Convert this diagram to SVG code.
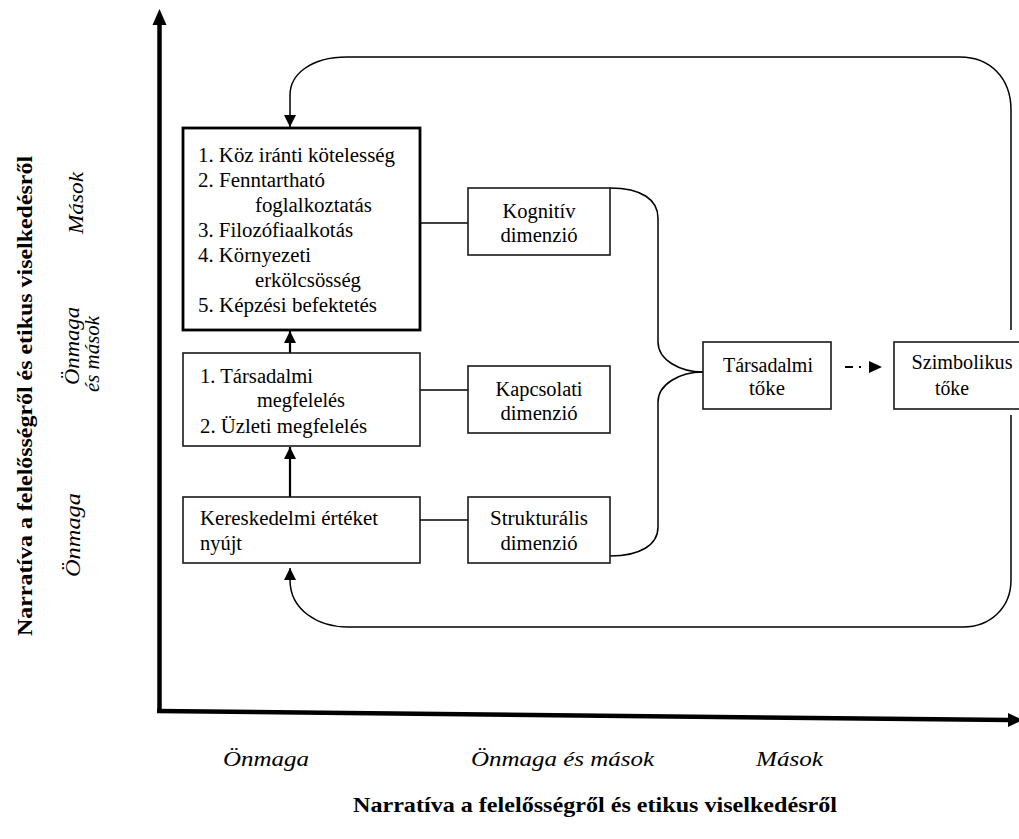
<svg xmlns="http://www.w3.org/2000/svg" width="1019" height="839" viewBox="0 0 1019 839">
<style>
text{font-family:'Liberation Serif','Times New Roman',serif;fill:#000}
.t{font-size:20px}
.c{text-anchor:middle}
.m{text-anchor:middle}
.i{font-style:italic;font-size:22px}
.b{font-weight:bold;font-size:21px}
.box{fill:#fff;stroke:#1a1a1a;stroke-width:1.6}
.thick{fill:#fff;stroke:#000;stroke-width:2.8}
.ln{fill:none;stroke:#000;stroke-width:1.5}
.arr{fill:none;stroke:#000;stroke-width:2.2}
</style>
<defs>
<marker id="ah" markerUnits="userSpaceOnUse" viewBox="0 0 12 12" refX="12" refY="6" markerWidth="12" markerHeight="12" orient="auto">
<path d="M0,0 L12,6 L0,12 z" fill="#000"/>
</marker>
</defs>
<rect width="1019" height="839" fill="#fff"/>

<g id="axes">
<line x1="159.5" y1="713" x2="159.5" y2="22" stroke="#000" stroke-width="4.5"/>
<polygon points="152.5,25 166.5,25 159.5,9" fill="#000"/>
<line x1="157" y1="711" x2="1010" y2="720" stroke="#000" stroke-width="4.5"/>
<polygon points="1008,713 1008,727 1023,720" fill="#000"/>
</g>

<g id="axis-labels">
<text class="b m" transform="translate(32,396) rotate(-90)" textLength="480" lengthAdjust="spacingAndGlyphs">Narratíva a felelősségről és etikus viselkedésről</text>
<text class="i m" transform="translate(83,203) rotate(-90)" textLength="62" lengthAdjust="spacingAndGlyphs">Mások</text>
<text class="i m" transform="translate(79,346) rotate(-90)" textLength="78" lengthAdjust="spacingAndGlyphs">Önmaga</text>
<text class="i m" transform="translate(99,354) rotate(-90)" textLength="76" lengthAdjust="spacingAndGlyphs">és mások</text>
<text class="i m" transform="translate(80,535) rotate(-90)" textLength="84" lengthAdjust="spacingAndGlyphs">Önmaga</text>
<text class="i" x="223" y="766" textLength="86" lengthAdjust="spacingAndGlyphs">Önmaga</text>
<text class="i" x="471" y="766" textLength="183" lengthAdjust="spacingAndGlyphs">Önmaga és mások</text>
<text class="i" x="756" y="766" textLength="67" lengthAdjust="spacingAndGlyphs">Mások</text>
<text class="b" x="353" y="812" textLength="484" lengthAdjust="spacingAndGlyphs">Narratíva a felelősségről és etikus viselkedésről</text>
</g>

<g id="connectors">
<line class="ln" x1="420" y1="223" x2="468" y2="223"/>
<line class="ln" x1="420" y1="390" x2="468" y2="390"/>
<line class="ln" x1="420" y1="520" x2="468" y2="520"/>
<path class="ln" d="M610,188 C642,188 658,200 658,218 L658,342 C658,360 680,372 703,372"/>
<path class="ln" d="M703,372 C680,372 658,384 658,402 L658,527 C658,545 640,556 610,556"/>
<line class="arr" x1="290" y1="353" x2="290" y2="331" marker-end="url(#ah)"/>
<line class="arr" x1="290" y1="497" x2="290" y2="447" marker-end="url(#ah)"/>
<path class="ln" d="M1011,330 L1011,110 C1011,78 990,57 960,57 L347,57 C310,57 290,75 290,95 L290,127" marker-end="url(#ah)"/>
<path class="ln" d="M1011,415 L1011,580 C1011,608 990,627 963,627 L348,627 C318,627 290,610 290,580 L290,568" marker-end="url(#ah)"/>
<line x1="845" y1="367" x2="869" y2="367" stroke="#000" stroke-width="1.8" stroke-dasharray="8,6,2,8"/>
<polygon points="869,361 882,367 869,373" fill="#000"/>
</g>

<g id="node-public">
<rect class="thick" x="183" y="128" width="237" height="202"/>
<text class="t" x="198" y="162" textLength="197" lengthAdjust="spacingAndGlyphs">1. Köz iránti kötelesség</text>
<text class="t" x="198" y="187" textLength="127" lengthAdjust="spacingAndGlyphs">2. Fenntartható</text>
<text class="t" x="255" y="212" textLength="117" lengthAdjust="spacingAndGlyphs">foglalkoztatás</text>
<text class="t" x="198" y="237" textLength="155" lengthAdjust="spacingAndGlyphs">3. Filozófiaalkotás</text>
<text class="t" x="198" y="262" textLength="113" lengthAdjust="spacingAndGlyphs">4. Környezeti</text>
<text class="t" x="255" y="287" textLength="106" lengthAdjust="spacingAndGlyphs">erkölcsösség</text>
<text class="t" x="198" y="312" textLength="179" lengthAdjust="spacingAndGlyphs">5. Képzési befektetés</text>
</g>

<g id="node-compliance">
<rect class="box" x="183" y="353" width="237" height="93"/>
<text class="t" x="200" y="383" textLength="113" lengthAdjust="spacingAndGlyphs">1. Társadalmi</text>
<text class="t" x="257" y="407" textLength="88" lengthAdjust="spacingAndGlyphs">megfelelés</text>
<text class="t" x="200" y="433" textLength="167" lengthAdjust="spacingAndGlyphs">2. Üzleti megfelelés</text>
</g>

<g id="node-commercial">
<rect class="box" x="183" y="497" width="237" height="66"/>
<text class="t" x="200" y="525" textLength="178" lengthAdjust="spacingAndGlyphs">Kereskedelmi értéket</text>
<text class="t" x="200" y="550" textLength="42" lengthAdjust="spacingAndGlyphs">nyújt</text>
</g>

<g id="node-cognitive">
<rect class="box" x="468" y="188" width="142" height="67"/>
<text class="t c" x="539" y="218" textLength="73" lengthAdjust="spacingAndGlyphs">Kognitív</text>
<text class="t c" x="539" y="242" textLength="77" lengthAdjust="spacingAndGlyphs">dimenzió</text>
</g>

<g id="node-relational">
<rect class="box" x="468" y="366" width="142" height="67"/>
<text class="t c" x="539" y="396" textLength="87" lengthAdjust="spacingAndGlyphs">Kapcsolati</text>
<text class="t c" x="539" y="420" textLength="77" lengthAdjust="spacingAndGlyphs">dimenzió</text>
</g>

<g id="node-structural">
<rect class="box" x="468" y="497" width="142" height="66"/>
<text class="t c" x="539" y="525" textLength="98" lengthAdjust="spacingAndGlyphs">Strukturális</text>
<text class="t c" x="539" y="550" textLength="77" lengthAdjust="spacingAndGlyphs">dimenzió</text>
</g>

<g id="node-social-capital">
<rect class="box" x="703" y="342" width="128" height="67"/>
<text class="t c" x="768" y="372" textLength="90" lengthAdjust="spacingAndGlyphs">Társadalmi</text>
<text class="t c" x="767" y="395" textLength="36" lengthAdjust="spacingAndGlyphs">tőke</text>
</g>

<g id="node-symbolic-capital">
<rect class="box" x="894" y="342" width="140" height="67"/>
<text class="t c" x="962" y="369" textLength="101" lengthAdjust="spacingAndGlyphs">Szimbolikus</text>
<text class="t c" x="952" y="395" textLength="34" lengthAdjust="spacingAndGlyphs">tőke</text>
</g>
</svg>
